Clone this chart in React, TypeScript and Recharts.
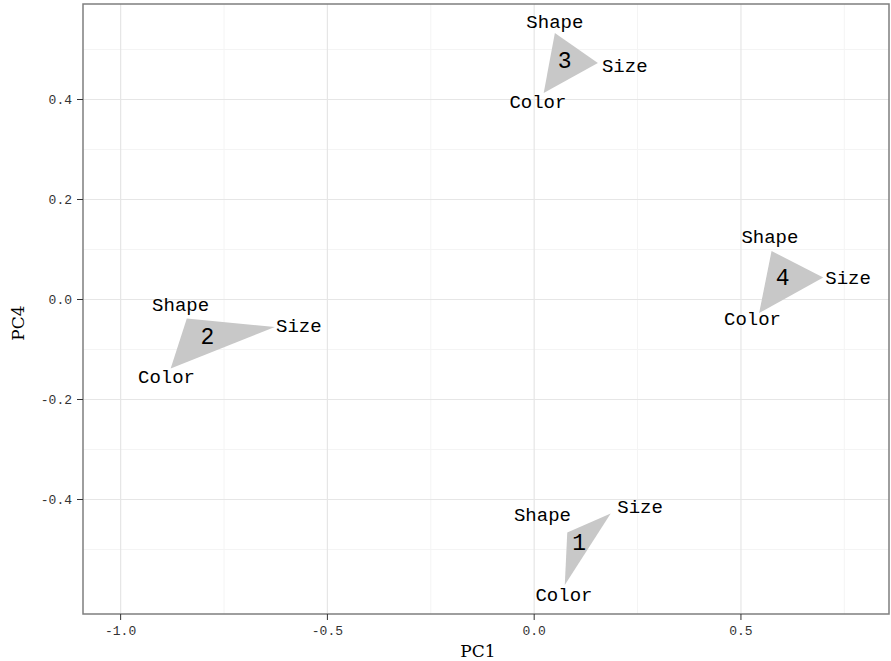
import { ScatterChart, Scatter, XAxis, YAxis, CartesianGrid, ReferenceArea } from "recharts";

// cluster ids and the three vertex names of each triangle
const clusters = ["1", "2", "3", "4"];
const vertexNames = ["Shape", "Size", "Color"];

// PC1 / PC4 of each vertex (Shape, Size, Color), per cluster
const vertexPC1 = [
  [0.08, 0.185, 0.074],
  [-0.84, -0.627, -0.879],
  [0.05, 0.154, 0.023],
  [0.574, 0.699, 0.544],
];
const vertexPC4 = [
  [-0.466, -0.428, -0.571],
  [-0.038, -0.055, -0.138],
  [0.533, 0.473, 0.413],
  [0.097, 0.044, -0.027],
];

// where the vertex names are written
const labelPC1 = [
  [0.02, 0.256, 0.072],
  [-0.855, -0.569, -0.889],
  [0.05, 0.219, 0.009],
  [0.57, 0.759, 0.528],
];
const labelPC4 = [
  [-0.433, -0.416, -0.593],
  [-0.013, -0.055, -0.157],
  [0.553, 0.465, 0.393],
  [0.124, 0.042, -0.041],
];

// cluster number position (centroid)
const centerPC1 = [0.109, -0.79, 0.074, 0.601];
const centerPC4 = [-0.488, -0.076, 0.475, 0.042];

const xTicks = [-1, -0.5, 0, 0.5];
const yTicks = [-0.4, -0.2, 0, 0.2, 0.4];
const xMinor = [-0.75, -0.25, 0.25, 0.75];
const yMinor = [-0.5, -0.3, -0.1, 0.1, 0.3, 0.5];

const X_DOMAIN: [number, number] = [-1.091, 0.858];
const Y_DOMAIN: [number, number] = [-0.629, 0.591];

const MONO = "'Liberation Mono', 'DejaVu Sans Mono', monospace";
const SERIF = "'DejaVu Serif', 'Liberation Serif', serif";

const triangles = clusters.map((id, c) => ({
  id,
  points: vertexNames.map((name, i) => ({ x: vertexPC1[c][i], y: vertexPC4[c][i], label: name })),
}));

const vertexLabels = clusters.flatMap((_, c) =>
  vertexNames.map((name, i) => ({ x: labelPC1[c][i], y: labelPC4[c][i], label: name }))
);

const numberLabels = clusters.map((id, c) => ({ x: centerPC1[c], y: centerPC4[c], label: id }));

const NoDot = () => <g />;

const TriangleFill = (p: any) => (
  <polygon
    points={(p.points || []).map((q: any) => `${q.x},${q.y}`).join(" ")}
    fill="#c8c8c8"
    stroke="none"
  />
);

const textShape = (size: number) => (p: any) => (
  <text
    x={p.cx}
    y={p.cy}
    textAnchor="middle"
    dominantBaseline="central"
    fontFamily={MONO}
    fontSize={size}
    fill="#000"
  >
    {p.payload.label}
  </text>
);

const fmt = (v: number) => v.toFixed(1);

export default function App() {
  return (
    <div style={{ position: "absolute", left: 0, top: 0, background: "#fff" }}>
      <ScatterChart width={891} height={661} margin={{ top: 4, right: 2, bottom: 0, left: 0 }}>
        <CartesianGrid
          stroke="#f4f4f4"
          strokeWidth={1}
          horizontalValues={yMinor}
          verticalValues={xMinor}
        />
        <CartesianGrid stroke="#e6e6e6" strokeWidth={1.2} horizontalValues={yTicks} verticalValues={xTicks} />
        <XAxis
          type="number"
          dataKey="x"
          domain={X_DOMAIN}
          ticks={xTicks}
          tickFormatter={fmt}
          axisLine={false}
          tickLine={{ stroke: "#333" }}
          tickSize={6}
          tickMargin={6}
          height={47}
          tick={{ fill: "#333", fontSize: 13, fontFamily: MONO }}
          label={(props: any) => {
            const vb = props.viewBox;
            return (
              <text
                x={vb.x + vb.width / 2 - 8}
                y={vb.y + 37}
                textAnchor="middle"
                dominantBaseline="central"
                fontFamily={SERIF}
                fontSize={17}
                fill="#000"
              >
                PC1
              </text>
            );
          }}
        />
        <YAxis
          type="number"
          dataKey="y"
          domain={Y_DOMAIN}
          ticks={yTicks}
          tickFormatter={fmt}
          axisLine={false}
          tickLine={{ stroke: "#333" }}
          tickSize={6}
          tickMargin={5}
          width={83}
          tick={{ fill: "#333", fontSize: 13, fontFamily: MONO }}
          label={(props: any) => {
            const vb = props.viewBox;
            const cx = vb.x + 18;
            const cy = vb.y + vb.height / 2 + 14;
            return (
              <text
                x={cx}
                y={cy}
                transform={`rotate(-90 ${cx} ${cy})`}
                textAnchor="middle"
                dominantBaseline="central"
                fontFamily={SERIF}
                fontSize={17}
                fill="#000"
              >
                PC4
              </text>
            );
          }}
        />
        {triangles.map((t) => (
          <Scatter
            key={"tri" + t.id}
            data={t.points}
            shape={NoDot}
            line={TriangleFill}
            lineType="joint"
            isAnimationActive={false}
          />
        ))}
        <Scatter data={vertexLabels} shape={textShape(19)} isAnimationActive={false} />
        <Scatter data={numberLabels} shape={textShape(23)} isAnimationActive={false} />
        <ReferenceArea
          x1={X_DOMAIN[0]}
          x2={X_DOMAIN[1]}
          y1={Y_DOMAIN[0]}
          y2={Y_DOMAIN[1]}
          fill="none"
          stroke="#7f7f7f"
          strokeWidth={1.5}
        />
      </ScatterChart>
    </div>
  );
}
